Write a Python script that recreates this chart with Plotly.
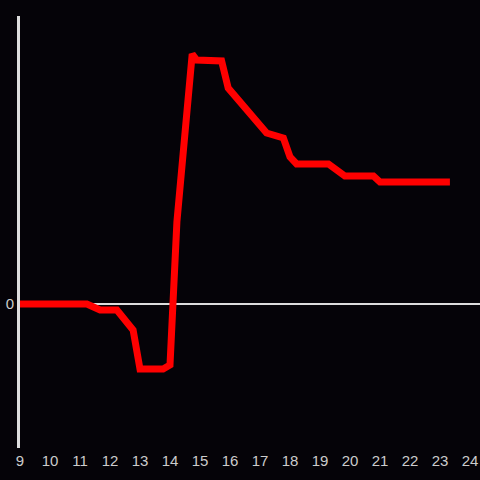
import plotly.graph_objects as go

hours = [9.0, 11.23, 11.67, 12.23, 12.77, 13.0, 13.77, 14.0, 14.23, 14.74, 14.89,
         15.72, 15.94, 16.67, 17.22, 17.78, 18.0, 18.22, 19.28, 19.83, 20.78, 21.0, 23.33]
values = [0, 0, -6, -6, -26, -65, -65, -61, 82, 250, 244,
          243, 216, 191, 171, 166, 147, 140, 140, 128, 128, 122, 122]
x_ticks = list(range(9, 25))
x_tick_labels = [str(v) for v in x_ticks]
y_ticks = [0]
y_tick_labels = ["0"]

fig = go.Figure()
fig.add_trace(go.Scatter(x=hours, y=values, mode="lines",
                         line=dict(color="#ff0000", width=7), hoverinfo="skip"))

fig.update_layout(
    width=480, height=480,
    margin=dict(l=20, r=0, t=16, b=32),
    paper_bgcolor="#050308", plot_bgcolor="#050308",
    showlegend=False,
    font=dict(family="Liberation Sans, Arial, sans-serif", size=15, color="#cccccc"),
    xaxis=dict(range=[9, 24.333], tickvals=x_ticks, ticktext=x_tick_labels,
               showgrid=False, zeroline=False, showline=False, ticks="",
               ticklabelstandoff=2),
    yaxis=dict(range=[-144, 288], tickvals=y_ticks, ticktext=y_tick_labels,
               showgrid=False, zeroline=True, zerolinecolor="#dddddd", zerolinewidth=2.5,
               showline=True, linecolor="#dddddd", linewidth=3, ticks=""),
)
fig.write_html("out.html", config={"displayModeBar": False, "staticPlot": True},
               post_script="document.body.style.margin='0';document.body.style.background='#050308';")
